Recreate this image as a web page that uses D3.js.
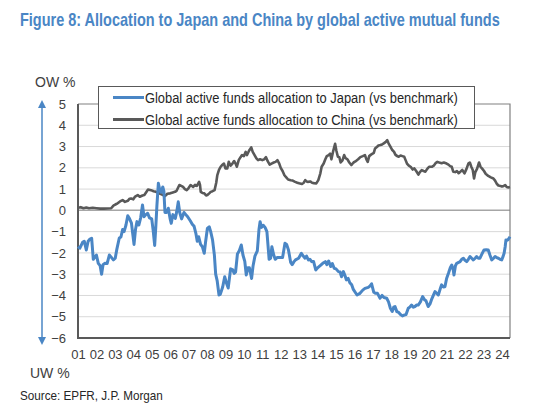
<!DOCTYPE html>
<html><head><meta charset="utf-8">
<script src="https://cdn.jsdelivr.net/npm/d3@7/dist/d3.min.js"></script>
<style>
html,body{margin:0;padding:0;background:#fff;}
svg{display:block;}
text{font-family:"Liberation Sans Narrow","Arial Narrow","Liberation Sans",Arial,sans-serif;}
</style></head>
<body>
<svg id="c" width="536" height="414"></svg>
<script>
const titleText = "Figure 8: Allocation to Japan and China by global active mutual funds";
const sourceText = "Source: EPFR, J.P. Morgan";
const seriesNames = ["Global active funds allocation to Japan (vs benchmark)", "Global active funds allocation to China (vs benchmark)"];
const yTicks = [5,4,3,2,1,0,-1,-2,-3,-4,-5,-6];
const xYears = d3.range(2001, 2025);
const xTickLabels = xYears.map(y => String(y % 100).padStart(2, "0"));

// [decimal year, % over/underweight]
const japan = [
[2001.00,-1.70],[2001.10,-1.78],[2001.25,-1.50],[2001.34,-1.45],[2001.45,-1.86],[2001.55,-1.45],[2001.65,-1.35],[2001.74,-1.31],
[2001.83,-2.30],[2001.92,-2.20],[2002.00,-2.10],[2002.10,-2.49],[2002.20,-2.60],[2002.28,-3.00],[2002.36,-2.55],[2002.45,-2.49],
[2002.58,-2.50],[2002.70,-2.10],[2002.80,-2.20],[2002.92,-2.33],[2003.02,-2.25],[2003.10,-1.86],[2003.24,-1.30],[2003.33,-1.25],
[2003.42,-0.90],[2003.50,-1.00],[2003.60,-0.70],[2003.70,-0.25],[2003.80,-0.40],[2003.90,-0.60],[2003.97,-1.10],[2004.04,-1.60],
[2004.12,-0.90],[2004.20,-0.53],[2004.30,-0.69],[2004.40,-0.35],[2004.50,0.25],[2004.58,-0.30],[2004.68,-0.20],[2004.78,-0.14],
[2004.88,-0.35],[2005.00,-0.40],[2005.08,-0.95],[2005.16,-1.65],[2005.22,-0.80],[2005.28,0.20],[2005.36,1.27],[2005.44,0.95],
[2005.52,0.85],[2005.60,1.10],[2005.66,0.90],[2005.72,-0.10],[2005.80,-0.10],[2005.90,0.10],[2006.00,-0.40],[2006.06,-0.61],
[2006.15,-0.20],[2006.28,-0.38],[2006.36,-0.05],[2006.44,0.40],[2006.52,-0.10],[2006.62,-0.40],[2006.75,-0.10],[2006.85,-0.20],
[2006.95,-0.30],[2007.10,-0.50],[2007.20,-0.65],[2007.30,-0.75],[2007.40,-1.10],[2007.47,-1.45],[2007.55,-1.24],[2007.65,-1.60],
[2007.75,-1.71],[2007.85,-2.02],[2007.92,-1.50],[2008.02,-0.85],[2008.12,-0.77],[2008.20,-1.00],[2008.30,-1.39],[2008.40,-2.10],
[2008.47,-3.00],[2008.55,-3.30],[2008.65,-3.98],[2008.72,-3.95],[2008.85,-3.60],[2008.96,-3.12],[2009.05,-3.40],[2009.15,-3.65],
[2009.28,-2.75],[2009.40,-2.80],[2009.47,-2.96],[2009.55,-2.90],[2009.65,-2.05],[2009.75,-1.90],[2009.86,-1.63],[2009.95,-2.10],
[2010.05,-2.40],[2010.13,-3.04],[2010.22,-2.70],[2010.30,-2.70],[2010.42,-3.20],[2010.50,-2.60],[2010.60,-2.15],[2010.73,-1.90],
[2010.82,-0.90],[2010.88,-0.53],[2010.96,-0.80],[2011.05,-0.70],[2011.15,-0.80],[2011.25,-1.00],[2011.37,-2.30],[2011.45,-2.25],
[2011.52,-1.71],[2011.62,-2.10],[2011.70,-2.30],[2011.80,-2.22],[2011.95,-2.22],[2012.10,-2.22],[2012.23,-1.55],[2012.32,-1.60],
[2012.42,-1.86],[2012.54,-2.45],[2012.62,-2.55],[2012.72,-2.41],[2012.80,-2.33],[2012.97,-2.25],[2013.12,-2.02],[2013.22,-2.15],
[2013.32,-2.25],[2013.40,-2.15],[2013.50,-2.33],[2013.58,-2.30],[2013.68,-2.41],[2013.78,-2.40],[2013.90,-2.80],[2014.00,-2.70],
[2014.14,-2.60],[2014.28,-2.49],[2014.42,-2.41],[2014.50,-2.55],[2014.60,-2.38],[2014.71,-2.64],[2014.80,-2.50],[2014.90,-2.72],
[2015.00,-2.75],[2015.13,-2.88],[2015.22,-2.90],[2015.30,-3.12],[2015.40,-2.88],[2015.50,-3.10],[2015.56,-3.27],[2015.66,-3.20],
[2015.75,-3.40],[2015.85,-3.50],[2015.93,-3.70],[2016.04,-3.85],[2016.14,-3.98],[2016.30,-3.90],[2016.45,-3.75],[2016.57,-3.67],
[2016.75,-3.62],[2016.85,-3.55],[2016.93,-3.45],[2017.05,-3.85],[2017.15,-3.90],[2017.25,-3.90],[2017.39,-4.13],[2017.50,-4.00],
[2017.60,-4.10],[2017.75,-4.13],[2017.85,-4.30],[2017.95,-4.60],[2018.05,-4.75],[2018.13,-4.55],[2018.20,-4.52],[2018.30,-4.76],
[2018.40,-4.80],[2018.50,-4.90],[2018.60,-4.96],[2018.70,-4.92],[2018.80,-4.90],[2018.92,-4.60],[2019.00,-4.55],[2019.10,-4.45],
[2019.20,-4.55],[2019.28,-4.52],[2019.38,-4.45],[2019.46,-4.45],[2019.58,-4.30],[2019.70,-4.05],[2019.80,-4.20],[2019.88,-4.25],
[2020.00,-4.52],[2020.10,-4.40],[2020.18,-4.20],[2020.28,-4.00],[2020.37,-3.82],[2020.46,-3.90],[2020.55,-3.98],[2020.65,-3.70],
[2020.73,-3.50],[2020.82,-3.60],[2020.91,-3.59],[2021.00,-3.20],[2021.10,-2.96],[2021.20,-2.70],[2021.28,-2.57],[2021.36,-2.80],
[2021.40,-3.04],[2021.48,-2.60],[2021.55,-2.49],[2021.65,-2.45],[2021.73,-2.41],[2021.82,-2.30],[2021.91,-2.25],[2022.00,-2.35],
[2022.09,-2.41],[2022.18,-2.30],[2022.27,-2.17],[2022.36,-2.25],[2022.45,-2.33],[2022.55,-2.25],[2022.63,-2.17],[2022.72,-2.25],
[2022.81,-2.25],[2022.92,-2.05],[2023.03,-1.86],[2023.15,-1.85],[2023.26,-1.86],[2023.35,-2.10],[2023.45,-2.33],[2023.55,-2.25],
[2023.63,-2.17],[2023.72,-2.22],[2023.81,-2.25],[2023.90,-2.30],[2023.99,-2.33],[2024.07,-2.15],[2024.12,-2.02],[2024.18,-1.70],
[2024.22,-1.39],[2024.30,-1.40],[2024.35,-1.36],[2024.44,-1.24]
];

const china = [
[2001.00,0.12],[2001.15,0.15],[2001.30,0.10],[2001.45,0.13],[2001.60,0.10],[2001.80,0.12],[2002.00,0.10],[2002.20,0.08],
[2002.40,0.08],[2002.60,0.09],[2002.80,0.10],[2002.90,0.20],[2002.97,0.25],[2003.08,0.30],[2003.15,0.33],[2003.28,0.42],
[2003.42,0.48],[2003.55,0.40],[2003.70,0.45],[2003.80,0.55],[2003.88,0.56],[2004.00,0.52],[2004.10,0.65],[2004.24,0.72],
[2004.35,0.64],[2004.50,0.70],[2004.60,0.72],[2004.70,0.85],[2004.80,0.98],[2004.96,0.95],[2005.10,0.90],[2005.23,0.87],
[2005.35,0.82],[2005.50,0.77],[2005.62,0.72],[2005.72,0.67],[2005.85,0.78],[2006.00,0.80],[2006.10,0.83],[2006.26,0.87],
[2006.35,0.92],[2006.50,1.19],[2006.60,1.15],[2006.70,1.10],[2006.80,1.00],[2006.90,0.95],[2007.00,1.05],[2007.11,1.19],
[2007.25,1.10],[2007.35,1.20],[2007.45,1.15],[2007.57,1.34],[2007.62,1.20],[2007.66,0.87],[2007.75,0.82],[2007.85,0.80],
[2007.95,0.70],[2008.02,0.72],[2008.12,0.80],[2008.20,0.87],[2008.30,0.90],[2008.41,0.95],[2008.50,1.30],[2008.56,1.66],
[2008.65,1.90],[2008.74,2.05],[2008.82,2.13],[2008.92,2.20],[2009.00,1.97],[2009.10,1.97],[2009.18,2.28],[2009.28,2.10],
[2009.38,2.20],[2009.47,2.32],[2009.55,2.20],[2009.62,2.05],[2009.72,2.36],[2009.82,2.50],[2009.90,2.60],[2010.00,2.55],
[2010.10,2.75],[2010.17,2.60],[2010.28,2.80],[2010.40,2.96],[2010.48,2.75],[2010.58,2.60],[2010.68,2.44],[2010.77,2.36],
[2010.88,2.40],[2011.00,2.36],[2011.10,2.40],[2011.20,2.50],[2011.30,2.30],[2011.40,2.15],[2011.50,2.20],[2011.62,2.25],
[2011.72,2.28],[2011.82,2.36],[2011.92,2.20],[2012.00,2.00],[2012.10,1.85],[2012.20,1.65],[2012.30,1.55],[2012.40,1.45],
[2012.54,1.42],[2012.65,1.40],[2012.78,1.34],[2012.90,1.30],[2013.00,1.27],[2013.15,1.24],[2013.25,1.30],[2013.33,1.42],
[2013.42,1.35],[2013.50,1.34],[2013.60,1.36],[2013.70,1.30],[2013.80,1.28],[2013.93,1.27],[2014.04,1.42],[2014.15,1.74],
[2014.22,2.05],[2014.33,2.20],[2014.42,2.40],[2014.50,2.55],[2014.60,2.60],[2014.68,2.67],[2014.75,2.40],[2014.85,2.80],
[2014.95,3.13],[2015.02,2.80],[2015.10,2.52],[2015.18,2.50],[2015.25,2.25],[2015.35,2.35],[2015.44,2.60],[2015.52,2.45],
[2015.62,2.40],[2015.72,2.25],[2015.83,2.13],[2015.95,2.25],[2016.05,2.30],[2016.20,2.40],[2016.32,2.50],[2016.45,2.55],
[2016.57,2.60],[2016.65,2.40],[2016.72,2.28],[2016.80,2.55],[2016.90,2.62],[2017.05,2.70],[2017.12,2.91],[2017.23,2.99],
[2017.30,3.05],[2017.41,3.07],[2017.50,3.10],[2017.59,3.15],[2017.70,3.22],[2017.78,3.30],[2017.85,3.15],[2017.95,3.00],
[2018.04,2.85],[2018.15,2.75],[2018.22,2.62],[2018.32,2.55],[2018.40,2.52],[2018.50,2.58],[2018.60,2.55],[2018.70,2.52],
[2018.78,2.35],[2018.85,2.20],[2018.95,2.10],[2019.05,2.05],[2019.16,1.92],[2019.25,1.97],[2019.35,1.85],[2019.47,1.68],
[2019.55,1.80],[2019.65,1.89],[2019.75,1.85],[2019.85,1.82],[2019.95,1.95],[2020.05,2.05],[2020.20,2.05],[2020.30,2.10],
[2020.40,2.22],[2020.50,2.28],[2020.60,2.25],[2020.73,2.22],[2020.85,2.25],[2021.00,2.20],[2021.10,2.15],[2021.19,2.08],
[2021.28,2.05],[2021.36,1.82],[2021.46,1.80],[2021.56,1.85],[2021.65,1.75],[2021.75,1.82],[2021.85,1.90],[2021.97,1.74],
[2022.08,1.95],[2022.18,2.20],[2022.26,2.25],[2022.34,2.05],[2022.42,1.90],[2022.49,1.50],[2022.56,1.80],[2022.65,1.95],
[2022.76,2.25],[2022.84,2.05],[2022.94,1.95],[2023.03,1.85],[2023.12,1.72],[2023.26,1.62],[2023.40,1.55],[2023.54,1.50],
[2023.63,1.40],[2023.72,1.25],[2023.81,1.17],[2023.92,1.15],[2024.00,1.12],[2024.10,1.15],[2024.18,1.19],[2024.26,1.10],
[2024.35,1.08],[2024.44,1.10]
];

const colors = ["#4a86c5", "#595959"];

const svg = d3.select("#c");
const L = 78, R = 510, T = 104, B = 338;
const x = d3.scaleLinear().domain([2001, 2024.44]).range([L, R]);
const y = d3.scaleLinear().domain([-6, 5]).range([B, T]);

// fit a text to a target width by horizontal scaling (narrow-font look)
function fitText(sel, x0, y0, w) {
  const len = sel.node().getComputedTextLength();
  const s = w / len;
  sel.attr("x", 0).attr("y", 0).attr("transform", `translate(${x0},${y0}) scale(${s},1)`);
  return sel;
}

// title
fitText(svg.append("text").attr("font-size", 18).attr("font-weight", "bold").attr("fill", "#4a86c5")
  .text(titleText), 20, 26, 480);

// gridlines
svg.append("g").selectAll("line").data(yTicks.filter(v => v !== 0 && v !== -6 && v !== 5)).join("line")
  .attr("x1", L).attr("x2", R).attr("y1", d => y(d)).attr("y2", d => y(d))
  .attr("stroke", "#d9d9d9").attr("stroke-width", 1);
// zero line
svg.append("line").attr("x1", L).attr("x2", R).attr("y1", y(0)).attr("y2", y(0))
  .attr("stroke", "#a6a6a6").attr("stroke-width", 1.5);
// top and right border
svg.append("path").attr("d", `M${L},${y(5)}H${R}V${B}`).attr("fill", "none")
  .attr("stroke", "#808080").attr("stroke-width", 1.2);

// y axis
const yAxis = d3.axisLeft(y).tickValues(yTicks).tickSize(0).tickPadding(12).tickFormat(d3.format("d"));
const gy = svg.append("g").attr("transform", `translate(${L},0)`).call(yAxis);
gy.select(".domain").remove();
gy.selectAll("text").attr("font-size", 13).attr("fill", "#404040")
  .attr("font-family", "'Liberation Sans Narrow','Arial Narrow','Liberation Sans',sans-serif");

// x axis
const xAxis = d3.axisBottom(x).tickValues(xYears).tickSize(0).tickPadding(12).tickFormat((d, i) => xTickLabels[i]);
const gx = svg.append("g").attr("transform", `translate(0,${B})`).call(xAxis);
gx.select(".domain").remove();
gx.selectAll("text").attr("font-size", 13).attr("fill", "#404040")
  .attr("font-family", "'Liberation Sans Narrow','Arial Narrow','Liberation Sans',sans-serif");

// axis lines (left & bottom)
svg.append("path").attr("d", `M${L},${T}V${B}H${R}`).attr("fill", "none")
  .attr("stroke", "#595959").attr("stroke-width", 2);

// series
const line = d3.line().x(d => x(d[0])).y(d => y(d[1]));
svg.append("path").datum(china).attr("d", line).attr("fill", "none")
  .attr("stroke", colors[1]).attr("stroke-width", 2.6).attr("stroke-linejoin", "round");
svg.append("path").datum(japan).attr("d", line).attr("fill", "none")
  .attr("stroke", colors[0]).attr("stroke-width", 3).attr("stroke-linejoin", "round");

// legend
const lg = svg.append("g");
lg.append("rect").attr("x", 98.5).attr("y", 86.5).attr("width", 376).attr("height", 42)
  .attr("fill", "#fff").attr("stroke", "#595959").attr("stroke-width", 1);
seriesNames.forEach((n, i) => {
  const yy = 97.5 + i * 22;
  lg.append("line").attr("x1", 113).attr("x2", 144).attr("y1", yy).attr("y2", yy)
    .attr("stroke", colors[i]).attr("stroke-width", 3);
  fitText(lg.append("text").attr("font-size", 15).attr("fill", "#262626").text(n), 145, yy + 5, 313);
});

// OW / UW arrow
const ac = "#4a86c5";
svg.append("line").attr("x1", 42).attr("x2", 42).attr("y1", 106).attr("y2", 338)
  .attr("stroke", ac).attr("stroke-width", 1.5);
svg.append("path").attr("d", "M42,100L46,108L38,108Z").attr("fill", ac);
svg.append("path").attr("d", "M42,345L46,337L38,337Z").attr("fill", ac);
svg.append("text").attr("x", 35).attr("y", 87).attr("font-size", 14).attr("fill", "#404040").text("OW %");
svg.append("text").attr("x", 30).attr("y", 378).attr("font-size", 14).attr("fill", "#404040").text("UW %");

// source
fitText(svg.append("text").attr("font-size", 13).attr("fill", "#262626").text(sourceText), 20, 400, 143);
</script>
</body></html>
